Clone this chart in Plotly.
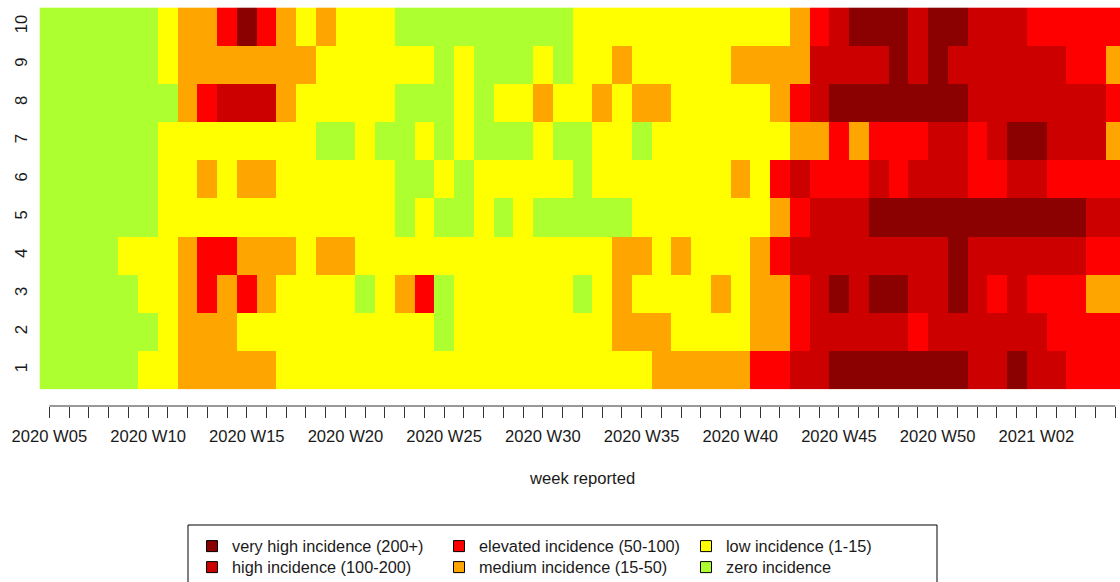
import plotly.graph_objects as go

# ---- data -------------------------------------------------------------
weeks = [f"2020 W{w:02d}" for w in range(5, 54)] + [f"2021 W{w:02d}" for w in range(1, 7)]
row_labels = [1, 2, 3, 4, 5, 6, 7, 8, 9, 10]

# incidence class per week (G zero, Y low, O medium, R elevated, H high, V very high)
row_01 = "GGGGG YYOOO OOYYY YYYYY YYYYY YYYYY YOOOO ORRHH VVVVV VVHHV HHRRR"
row_02 = "GGGGG GYOOO YYYYY YYYYY GYYYY YYYYO OOYYY YOORH HHHHR HHHHH HRRRR"
row_03 = "GGGGG YYORO ROYYY YGYOR GYYYY YYGYO YYYYO YOORH VHVVH HVHRH RRROO"
row_04 = "GGGGY YYORR OOOYO OYYYY YYYYY YYYYO OYOYY YORHH HHHHH HVHHH HHHRR"
row_05 = "GGGGG GYYYY YYYYY YYYGY GGYGY GGGGG YYYYY YYORH HHVVV VVVVV VVVHH"
row_06 = "GGGGG GYYOY OOYYY YYYGG YGYYY YYGYY YYYYY OYRHR RRHRH HHRRH HRRRR"
row_07 = "GGGGG GYYYY YYYYG GYGGY GYGGG YGGYY GYYYY YYYOO RORRR HHRHV VHHHO"
row_08 = "GGGGG GGORH HHOYY YYYGG GYGYY OYYOY OOYYY YYORH VVVVV VVHHH HHHHR"
row_09 = "GGGGG GYOOO OOOOY YYYYY GYGGG YGYYO YYYYY OOOOH HHHVH VHHHH HHRRO"
row_10 = "GGGGG GYOOR VROYO YYYGG GGGGG GGYYY YYYYY YYYOR HVVVH VVHHH RRRRR"

level_codes = ["G", "Y", "O", "R", "H", "V"]
level_names = ["zero incidence", "low incidence (1-15)", "medium incidence (15-50)",
               "elevated incidence (50-100)", "high incidence (100-200)",
               "very high incidence (200+)"]
level_colors = ["#ADFF2F", "#FFFF00", "#FFA500", "#FF0000", "#CD0000", "#8B0000"]

# ---- build ------------------------------------------------------------
rows = [row_01, row_02, row_03, row_04, row_05, row_06, row_07, row_08, row_09, row_10]
z = []
for r in rows:
    s = r.replace(" ", "")
    assert len(s) == len(weeks)
    z.append([level_codes.index(c) for c in s])

xidx = list(range(len(weeks)))
ticktext = [w if i % 5 == 0 else "" for i, w in enumerate(weeks)]

n = len(level_codes)
colorscale = []
for i, col in enumerate(level_colors):
    colorscale.append([i / n, col])
    colorscale.append([(i + 1) / n, col])

W, H = 1120, 582
def px(v):
    return v / W
def py(v):
    return 1 - v / H

FONT = "Liberation Sans, Arial, sans-serif"
TXT = "#1a1a1a"

fig = go.Figure()
fig.add_trace(go.Heatmap(
    z=z, x=xidx, y=row_labels, colorscale=colorscale,
    zmin=-0.5, zmax=n - 0.5, showscale=False, xgap=0, ygap=0,
    hoverinfo="skip",
))

# legend entries: two rows of three, like the original legend
legend_rows = [("legend", [5, 3, 1]), ("legend2", [4, 2, 0])]
for lg, ks in legend_rows:
    for k in ks:
        fig.add_trace(go.Scatter(
            x=[None], y=[None], mode="markers", name=level_names[k],
            legend=lg,
            marker=dict(symbol="square", size=11, color=level_colors[k],
                        line=dict(color="black", width=1)),
        ))

col_w = (1125.2 - 39.5) / len(weeks)
x_right = -0.5 + (1120 - 39.5) / col_w

legend_common = dict(
    orientation="h", x=px(192), xanchor="left", yanchor="top",
    borderwidth=0, bgcolor="rgba(0,0,0,0)",
    font=dict(family=FONT, size=16.3, color=TXT),
    entrywidth=202, entrywidthmode="pixels", traceorder="normal",
)

fig.update_layout(
    width=W, height=H,
    template="none",
    margin=dict(l=0, r=0, t=0, b=0, autoexpand=False),
    paper_bgcolor="white", plot_bgcolor="white",
    font=dict(family=FONT, size=16.6, color=TXT),
    xaxis=dict(
        domain=[px(39.5), 1], range=[-0.5, x_right],
        anchor="free", position=py(406),
        tickmode="array", tickvals=xidx, ticktext=ticktext,
        ticks="outside", ticklen=11, tickwidth=1, tickcolor="#333",
        showline=False, showgrid=False, zeroline=False,
        tickfont=dict(family=FONT, size=16.6, color=TXT),
        ticklabelstandoff=4, automargin=False,
    ),
    yaxis=dict(
        domain=[py(389.3), py(7.4)], range=[0.5, 10.5],
        tickmode="array", tickvals=row_labels, ticktext=[str(v) for v in row_labels],
        tickangle=-90, ticks="", showline=False, showgrid=False, zeroline=False,
        tickfont=dict(family=FONT, size=16.6, color=TXT),
        ticklabelstandoff=8, automargin=False,
    ),
    showlegend=True,
    legend=dict(legend_common, y=py(529)),
    legend2=dict(legend_common, y=py(550)),
    shapes=[
        dict(type="line", xref="x", yref="paper", x0=xidx[0], x1=xidx[-1],
             y0=py(406), y1=py(406), line=dict(color="#333", width=1)),
        dict(type="rect", xref="paper", yref="paper", x0=px(188), x1=px(937),
             y0=py(640), y1=py(525), line=dict(color="black", width=1),
             fillcolor="rgba(0,0,0,0)"),
    ],
    annotations=[
        dict(text="week reported", x=px(582), y=py(478), xref="paper", yref="paper",
             showarrow=False, xanchor="center", yanchor="middle",
             font=dict(family=FONT, size=16.6, color=TXT)),
    ],
)

fig.write_html("out.html", config={"displayModeBar": False},
               post_script="document.body.style.margin='0px';")
